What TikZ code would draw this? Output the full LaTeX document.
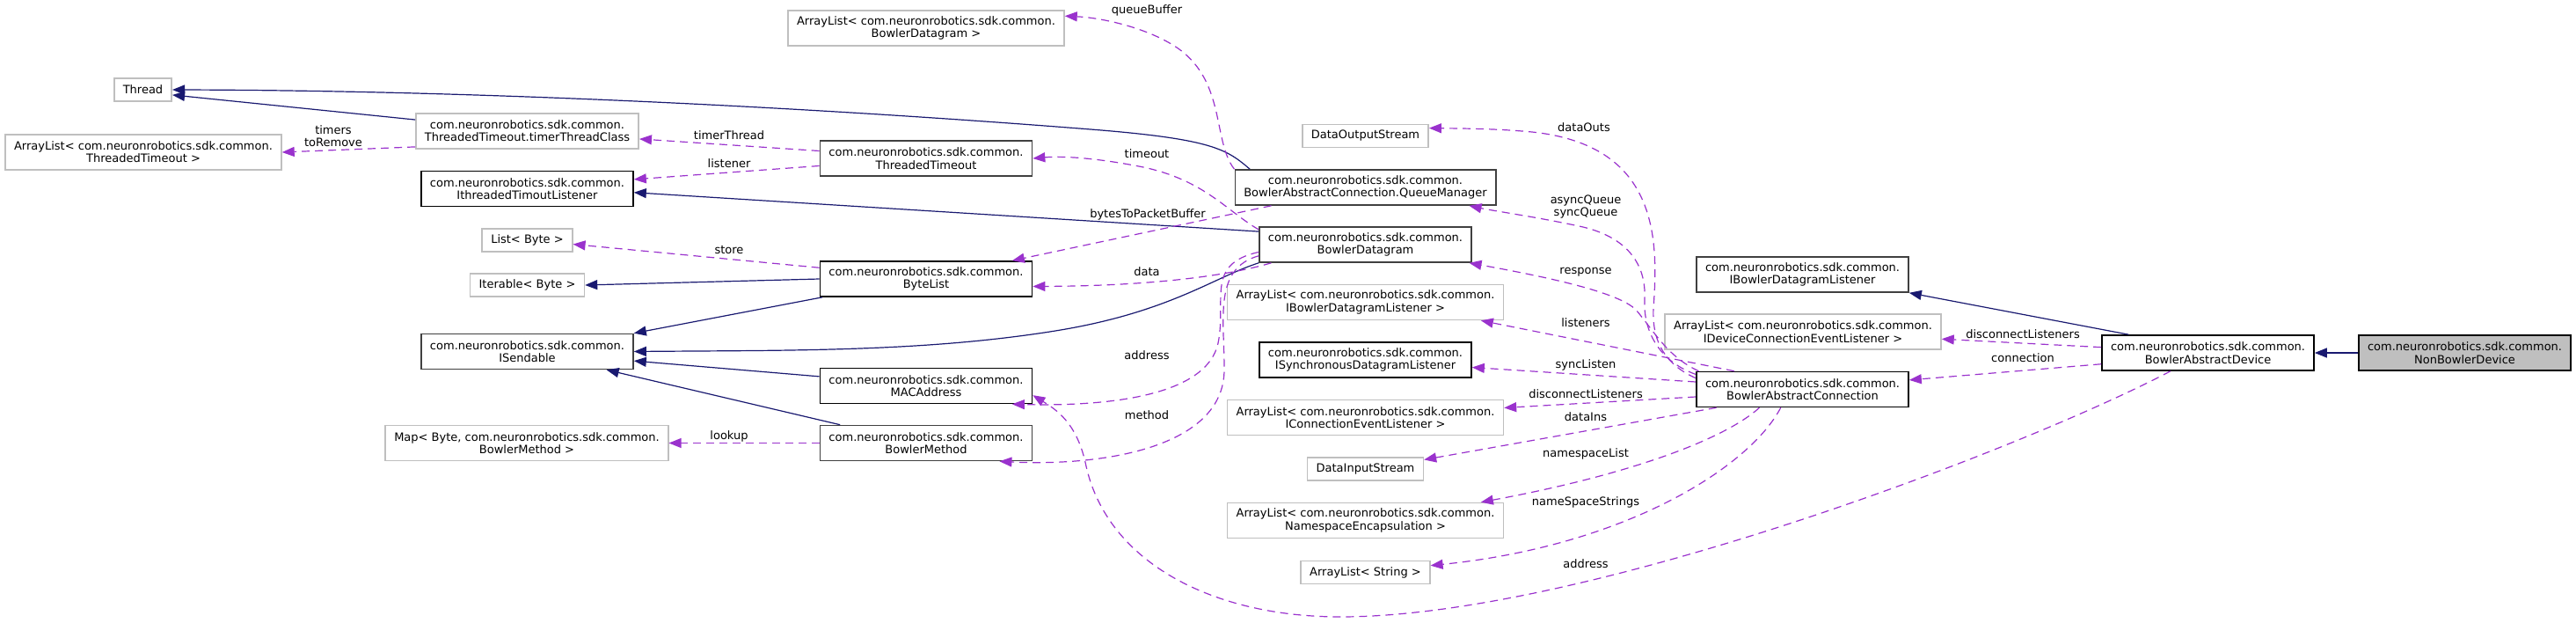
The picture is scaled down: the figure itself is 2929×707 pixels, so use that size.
\documentclass[tikz,border=0pt]{standalone}
\usepackage{fontspec}
\setmainfont{DejaVu Sans}
\usetikzlibrary{arrows.meta, positioning}
\definecolor{inhblue}{HTML}{191970}
\definecolor{usepurple}{HTML}{9A32CD}
\definecolor{extgray}{HTML}{BFBFBF}
\definecolor{docgray}{HTML}{404040}

\begin{document}
\begin{tikzpicture}[x=1pt, y=-1pt,
        font=\fontsize{13}{14.3}\selectfont,
        cls/.style={draw=black, line width=1.6pt, fill=white, align=center, inner xsep=10pt, inner ysep=0pt, minimum height=40pt},
        clsd/.style={cls, draw=docgray},
        ext/.style={cls, draw=extgray},
        oneline/.style={minimum height=26pt},
        inh/.style={-{Triangle[length=14pt, width=11pt]}, inhblue, line width=1.2pt},
        uses/.style={-{Triangle[length=14pt, width=11pt]}, usepurple, line width=1.2pt, dash pattern=on 9pt off 6pt},
        lbl/.style={inner sep=1pt, align=center}
    ]
        \useasboundingbox (0,0) rectangle (2929,707);

        % left columns
        \node[ext, oneline] (thread) at (162.5,102) {Thread};
        \node[ext] (tmrlist) at (163,173) {ArrayList< com.neuronrobotics.sdk.common.\\ThreadedTimeout >};
        \node[ext] (tmrcls) at (599.5,149) {com.neuronrobotics.sdk.common.\\ThreadedTimeout.timerThreadClass};
        \node[cls] (itl) at (599.5,214.5) {com.neuronrobotics.sdk.common.\\IthreadedTimoutListener};
        \node[ext, oneline] (listbyte) at (599.5,273) {List< Byte >};
        \node[ext, oneline] (iterbyte) at (599.5,324) {Iterable< Byte >};
        \node[clsd] (isend) at (599.5,399.5) {com.neuronrobotics.sdk.common.\\ISendable};
        \node[ext] (lookupmap) at (599,503.5) {Map< Byte, com.neuronrobotics.sdk.common.\\BowlerMethod >};

        % middle column
        \node[ext] (dglist) at (1053,32) {ArrayList< com.neuronrobotics.sdk.common.\\BowlerDatagram >};
        \node[clsd] (ttimeout) at (1053,180) {com.neuronrobotics.sdk.common.\\ThreadedTimeout};
        \node[cls] (bytelist) at (1053,317) {com.neuronrobotics.sdk.common.\\ByteList};
        \node[cls] (macaddr) at (1053,438.5) {com.neuronrobotics.sdk.common.\\MACAddress};
        \node[clsd] (bmethod) at (1053,503.5) {com.neuronrobotics.sdk.common.\\BowlerMethod};

        % connection members
        \node[ext, oneline] (dos) at (1552.5,154.5) {DataOutputStream};
        \node[clsd] (qmgr) at (1552.5,213) {com.neuronrobotics.sdk.common.\\BowlerAbstractConnection.QueueManager};
        \node[clsd] (bdgram) at (1552.5,278) {com.neuronrobotics.sdk.common.\\BowlerDatagram};
        \node[ext] (dglisteners) at (1552.5,343.5) {ArrayList< com.neuronrobotics.sdk.common.\\IBowlerDatagramListener >};
        \node[cls] (isdl) at (1552.5,409) {com.neuronrobotics.sdk.common.\\ISynchronousDatagramListener};
        \node[ext] (celist) at (1552.5,474.5) {ArrayList< com.neuronrobotics.sdk.common.\\IConnectionEventListener >};
        \node[ext, oneline] (dis) at (1552.5,533) {DataInputStream};
        \node[ext] (nslist) at (1552.5,591.5) {ArrayList< com.neuronrobotics.sdk.common.\\NamespaceEncapsulation >};
        \node[ext, oneline] (strlist) at (1552.5,650.5) {ArrayList< String >};

        % device side
        \node[clsd] (ibdl) at (2049.5,312) {com.neuronrobotics.sdk.common.\\IBowlerDatagramListener};
        \node[ext] (dcelist) at (2050,377) {ArrayList< com.neuronrobotics.sdk.common.\\IDeviceConnectionEventListener >};
        \node[cls] (bac) at (2049.5,442.5) {com.neuronrobotics.sdk.common.\\BowlerAbstractConnection};
        \node[cls] (bad) at (2510.5,401) {com.neuronrobotics.sdk.common.\\BowlerAbstractDevice};
        \node[cls, fill=extgray] (nbd) at (2802.5,401) {com.neuronrobotics.sdk.common.\\NonBowlerDevice};

        % inheritance
        \draw[inh] (tmrcls) -- (thread.-10);
        \draw[inh] (qmgr.171) .. controls (1395,170) and (1380,158) .. (1240,147)
            .. controls (1000,128) and (600,103) .. (thread.east);
        \draw[inh] (bdgram.173) -- (itl.-2);
        \draw[inh] (bytelist.west) -- (iterbyte.east);
        \draw[inh] (bytelist.190) -- (isend.north east);
        \draw[inh] (bdgram.south west) .. controls (1380,315) and (1330,355) .. (1200,376)
            .. controls (1050,400) and (900,398) .. (isend.east);
        \draw[inh] (macaddr.175) -- (isend.-5);
        \draw[inh] (bmethod.168) -- (isend.-13);
        \draw[inh] (bad.167) -- (ibdl.south east);
        \draw[inh] (nbd) -- (bad);

        % members
        \draw[uses] (tmrcls.188) -- (tmrlist.east);
        \draw[uses] (ttimeout.176) -- (tmrcls.-4);
        \draw[uses] (ttimeout.184) -- (itl.5);
        \draw[uses] (bytelist.174) -- (listbyte.-5);
        \draw[uses] (bmethod) -- (lookupmap);
        \draw[uses] (qmgr.north west) .. controls (1378,160) and (1395,90) .. (1335,52)
            .. controls (1300,30) and (1250,20) .. (dglist.5);
        \draw[uses] (bdgram.172) .. controls (1395,240) and (1370,205) .. (1300,190)
            .. controls (1250,180) and (1210,177) .. (ttimeout.east);
        \draw[uses] (qmgr.191) -- (bytelist.12);
        \draw[uses] (bdgram.191) .. controls (1390,315) and (1300,325) .. (bytelist.-4);
        \draw[uses] (bdgram.184) .. controls (1370,300) and (1395,340) .. (1385,390)
            .. controls (1372,450) and (1260,462) .. (macaddr.-12);
        \draw[uses] (bdgram.186) .. controls (1380,305) and (1392,360) .. (1392,420)
            .. controls (1392,510) and (1250,530) .. (bmethod.-14);
        \draw[uses] (bac.174) .. controls (1895,415) and (1878,390) .. (1880,350)
            .. controls (1886,270) and (1885,165) .. (1742,150)
            .. controls (1700,146) and (1660,146) .. (dos.7);
        \draw[uses] (bac.172) .. controls (1890,412) and (1868,380) .. (1870,340)
            .. controls (1872,300) and (1850,270) .. (1800,258)
            .. controls (1750,247) and (1700,240) .. (qmgr.-10);
        \draw[uses] (bac.170) .. controls (1895,405) and (1880,375) .. (1860,352)
            .. controls (1840,332) and (1760,315) .. (bdgram.-10);
        \draw[uses] (bac.165) -- (dglisteners.-9);
        \draw[uses] (bac.176) -- (isdl.-4);
        \draw[uses] (bac.184) -- (celist.4);
        \draw[uses] (bac.192) -- (dis.9);
        \draw[uses] (bac.203) .. controls (1960,500) and (1850,540) .. (nslist.9);
        \draw[uses] (bac.220) .. controls (1990,530) and (1850,620) .. (strlist.6);
        \draw[uses] (bad.177) -- (dcelist.-3);
        \draw[uses] (bad.186) -- (bac.5);
        \draw[uses] (bad.206) .. controls (2300,510) and (1800,701) .. (1524,701)
            .. controls (1380,701) and (1260,640) .. (1235,530)
            .. controls (1225,480) and (1200,465) .. (macaddr.-5);

        % member names
        \node[lbl] (ltimers) at (379,155) {timers\\toRemove};
        \node[lbl] (ltimer) at (829,154) {timerThread};
        \node[lbl] (llistener) at (829,186) {listener};
        \node[lbl] (lstore) at (829,284) {store};
        \node[lbl] (llookup) at (829,496) {lookup};
        \node[lbl] (lqueue) at (1304,12) {queueBuffer};
        \node[lbl] (ltimeout) at (1304,175) {timeout};
        \node[lbl] (lbytes) at (1305,244) {bytesToPacketBuffer};
        \node[lbl] (ldata) at (1304,309) {data};
        \node[lbl] (laddr) at (1304,404) {address};
        \node[lbl] (lmethod) at (1304,472) {method};
        \node[lbl] (louts) at (1801,145) {dataOuts};
        \node[lbl] (lqueues) at (1803,235) {asyncQueue\\syncQueue};
        \node[lbl] (lresp) at (1803,309) {response};
        \node[lbl] (llisteners) at (1803,367) {listeners};
        \node[lbl] (lsync) at (1803,415) {syncListen};
        \node[lbl] (ldisc) at (1803,448) {disconnectListeners};
        \node[lbl] (lins) at (1803,474) {dataIns};
        \node[lbl] (lnslist) at (1803,516) {namespaceList};
        \node[lbl] (lnsstr) at (1803,571) {nameSpaceStrings};
        \node[lbl] (laddrdev) at (1803,641) {address};
        \node[lbl] (ldiscdev) at (2300,380) {disconnectListeners};
        \node[lbl] (lconn) at (2300,407) {connection};
    \end{tikzpicture}
\end{document}
